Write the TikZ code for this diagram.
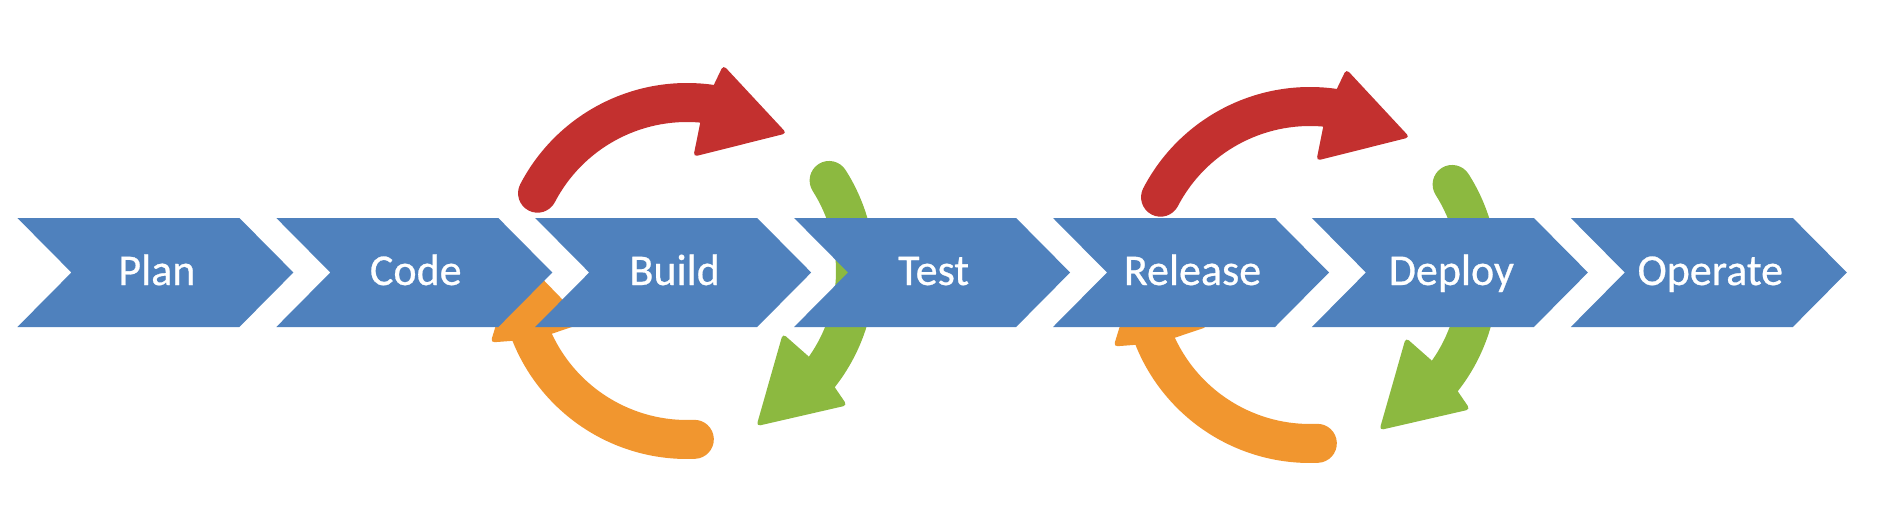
\documentclass[tikz,border=0pt]{standalone}
\usepackage{fontspec}
\setmainfont{Carlito}
\newfontfamily\chevfont[FakeBold=0.6]{Carlito}
\definecolor{chev}{HTML}{4F81BD}
\definecolor{cred}{HTML}{C3302F}
\definecolor{corange}{HTML}{F1962F}
\definecolor{cgreen}{HTML}{8CB940}
\newcommand\chevronat[1]{%
  \fill[chevbox] (#1,289) -- ++(222,0) -- ++(54,-54.5) -- ++(-54,-54.5) -- ++(-222,0) -- ++(54,54.5) -- cycle;}
\newcommand\cyclearrow[2]{%
  \fill[#2, rotate=#1] (152.5:188pt) arc[start angle=152.5, end angle=81.8, radius=188pt]
    [rounded corners=4pt] -- (80:209pt) -- (54.1:170pt) -- (86.8:114.5pt) [sharp corners] -- (84.9:149pt)
    arc[start angle=84.9, end angle=152.5, radius=149pt]
    arc[start angle=332.5, end angle=152.5, radius=19.5pt] -- cycle;}
\begin{document}
\begin{tikzpicture}[x=1pt,y=1pt,
  chevbox/.style={fill=chev},
  lbl/.style={text=white, font=\chevfont\fontsize{44}{50}\selectfont, anchor=base, inner sep=0pt}]
\useasboundingbox (0,0) rectangle (1881,507);
\begin{scope}[shift={(687,236)}]
  \cyclearrow{0}{cred}
  \cyclearrow{-120}{cgreen}
  \cyclearrow{-240}{corange}
\end{scope}
\begin{scope}[shift={(1310,232)}]
  \cyclearrow{0}{cred}
  \cyclearrow{-120}{cgreen}
  \cyclearrow{-240}{corange}
\end{scope}
\chevronat{17.4}
\chevronat{276.3}
\chevronat{535.2}
\chevronat{794.1}
\chevronat{1053.0}
\chevronat{1311.9}
\chevronat{1570.8}
\node[lbl] (plan) at (156.9,222) {Plan};
\node[lbl] (code) at (415.8,222) {Code};
\node[lbl] (build) at (674.7,222) {Build};
\node[lbl] (test) at (933.6,222) {Test};
\node[lbl] (release) at (1192.5,222) {Release};
\node[lbl] (deploy) at (1451.4,222) {Deploy};
\node[lbl] (operate) at (1710.3,222) {Operate};
\end{tikzpicture}
\end{document}
